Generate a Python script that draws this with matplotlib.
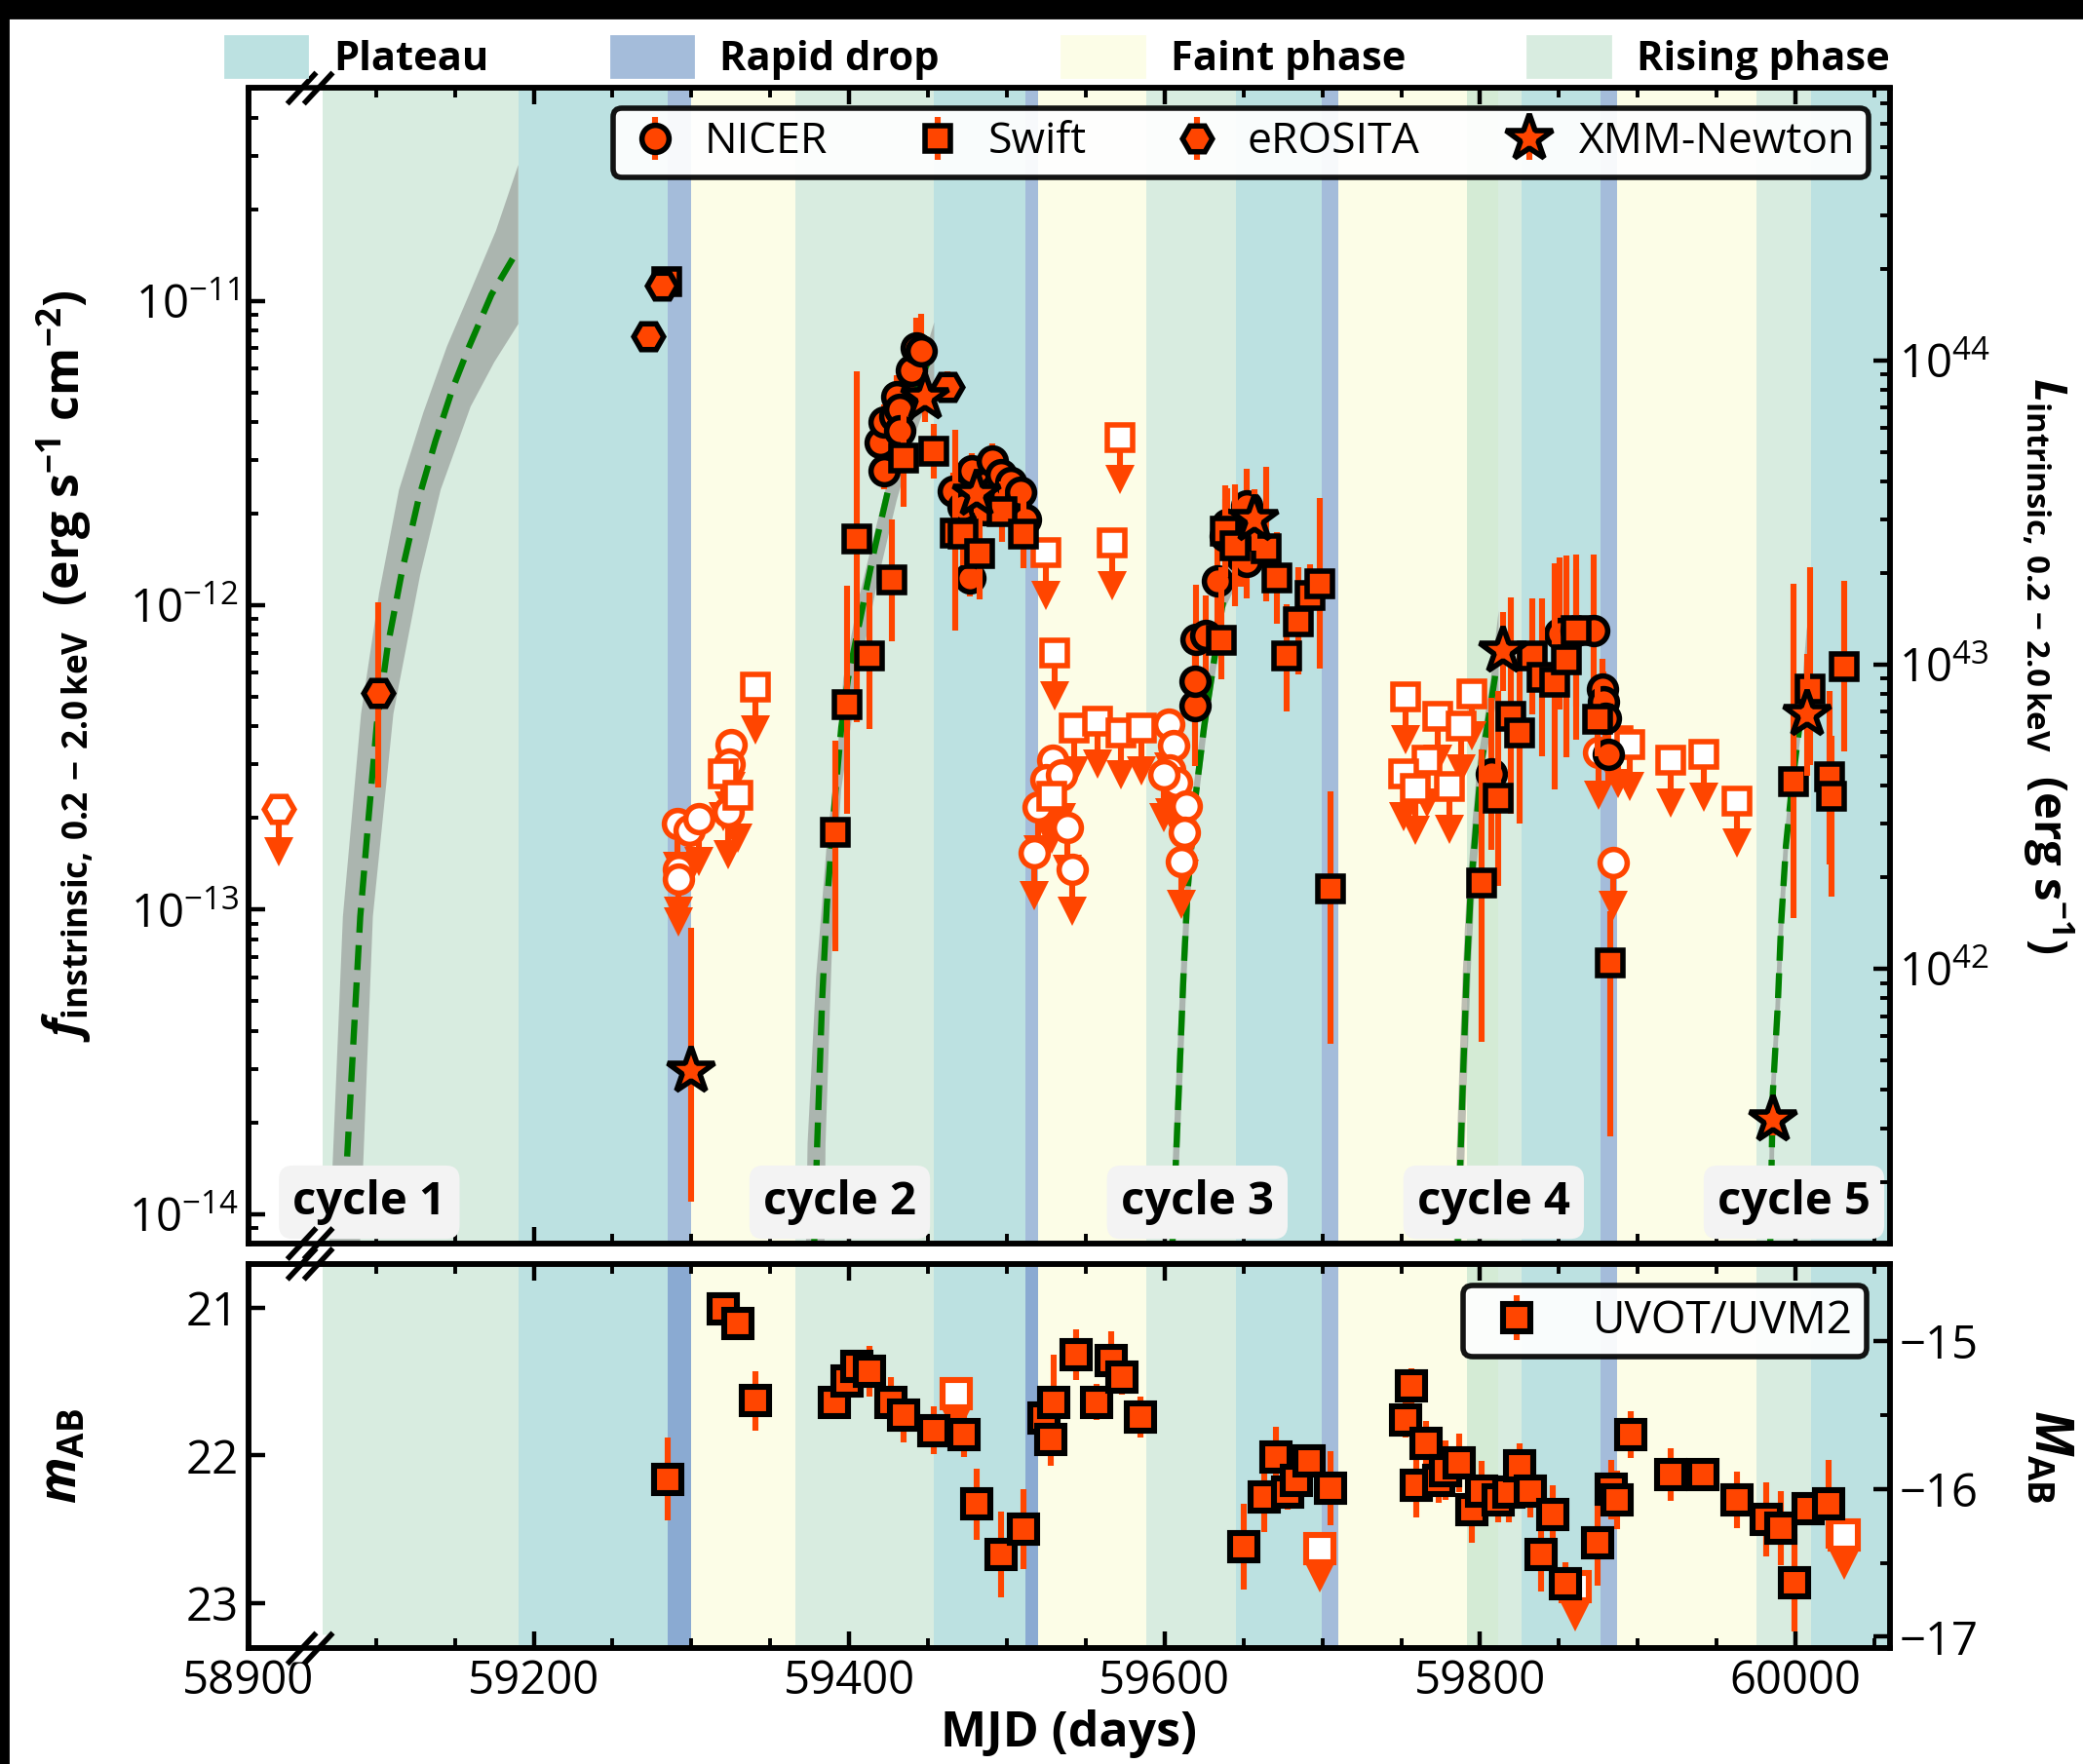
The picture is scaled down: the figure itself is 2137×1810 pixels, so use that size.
import numpy as np
import matplotlib.pyplot as plt
from matplotlib.patches import Patch, Polygon, Rectangle
from matplotlib.ticker import FixedLocator, NullFormatter, LogFormatterSciNotation, NullLocator

plt.rcParams['font.family'] = ['Open Sans', 'DejaVu Sans']
plt.rcParams['mathtext.fontset'] = 'custom'
plt.rcParams['mathtext.rm'] = 'Open Sans:bold'
plt.rcParams['mathtext.it'] = 'Open Sans:italic:bold'
plt.rcParams['mathtext.bf'] = 'Open Sans:bold'

ORANGE = 'orangered'

# ---------------- phases ----------------
phase_start = [59066.2, 59190.1, 59285.0, 59299.8, 59366.0, 59453.9, 59511.6, 59519.8, 59588.5,
               59645.0, 59699.5, 59710.0, 59791.8, 59811.5, 59826.5, 59876.6, 59886.8, 59975.0, 60009.8]
phase_end = [59190.1, 59285.0, 59299.8, 59366.0, 59453.9, 59511.6, 59519.8, 59588.5, 59645.0,
             59699.5, 59710.0, 59791.8, 59811.5, 59826.5, 59876.6, 59886.8, 59975.0, 60009.8, 60060.0]
phase_kind = ['rise', 'plat', 'drop', 'faint', 'rise', 'plat', 'drop', 'faint', 'rise',
              'plat', 'drop', 'faint', 'rise2', 'rise', 'plat', 'drop', 'faint', 'rise', 'plat']
phase_color = {'plat': '#bce1e1', 'drop': '#a4bcda', 'faint': '#fcfde7',
               'rise': '#d8ece0', 'rise2': '#d4ebd5'}
drop_color_lower = ['#8aaad2', '#8aaad2', '#a4bcda', '#a4bcda']

# ---------------- X-ray detections ----------------
nicer_t = [59419.9, 59422.0, 59422.0, 59429.2, 59430.2, 59432.3, 59432.3, 59439.5, 59442.8, 59445.3,
           59466.3, 59472.0, 59476.6, 59477.6, 59485.9, 59487.0, 59491.0, 59493.0, 59496.2, 59499.0,
           59502.4, 59505.0, 59508.6, 59511.7,
           59619.4, 59619.4, 59619.8, 59626.0, 59633.2, 59638.3, 59639.4, 59645.0, 59648.0, 59651.8, 59651.8,
           59806.9, 59850.6, 59861.0, 59872.3, 59877.4, 59878.5, 59879.5, 59881.6]
nicer_f = [3.44e-12, 2.76e-12, 3.99e-12, 4.19e-12, 4.86e-12, 4.40e-12, 3.75e-12, 5.91e-12, 7.0e-12, 6.86e-12,
           2.38e-12, 2.10e-12, 1.23e-12, 2.76e-12, 2.06e-12, 2.50e-12, 2.97e-12, 2.40e-12, 2.69e-12, 2.30e-12,
           2.53e-12, 2.10e-12, 2.35e-12, 1.91e-12,
           4.70e-13, 5.65e-13, 7.72e-13, 7.97e-13, 1.20e-12, 1.69e-12, 1.84e-12, 1.60e-12, 1.45e-12, 2.13e-12, 1.39e-12,
           2.80e-13, 8.07e-13, 8.28e-13, 8.28e-13, 5.32e-13, 4.82e-13, 4.26e-13, 3.25e-13]
nicer_e = [0.06, 0.06, 0.06, 0.06, 0.07, 0.06, 0.06, 0.07, 0.10, 0.12,
           0.06, 0.05, 0.06, 0.06, 0.05, 0.05, 0.06, 0.05, 0.05, 0.05,
           0.05, 0.05, 0.05, 0.06,
           0.20, 0.18, 0.18, 0.13, 0.15, 0.12, 0.12, 0.10, 0.10, 0.12, 0.12,
           0.25, 0.25, 0.25, 0.25, 0.10, 0.10, 0.10, 0.10]

swift_t = [59284.3, 59391.1, 59398.9, 59405.1, 59412.7, 59427.1, 59434.4, 59453.9, 59467.3, 59472.4,
           59482.8, 59497.2, 59510.6, 59635.9, 59638.3, 59644.6, 59664.1, 59671.3, 59677.5, 59684.8,
           59692.0, 59698.1, 59705.4, 59801.2, 59811.5, 59819.7, 59824.8, 59833.1, 59839.3, 59847.5,
           59854.7, 59860.9, 59874.4, 59882.6, 59999.0, 60009.3, 60021.7, 60022.7, 60031.0]
swift_f = [1.16e-11, 1.80e-13, 4.72e-13, 1.65e-12, 6.80e-13, 1.21e-12, 3.05e-12, 3.20e-12, 1.73e-12, 1.71e-12,
           1.48e-12, 2.03e-12, 1.71e-12, 7.69e-13, 1.75e-12, 1.57e-12, 1.53e-12, 1.23e-12, 6.80e-13, 8.80e-13,
           1.08e-12, 1.18e-12, 1.17e-13, 1.22e-13, 2.33e-13, 4.31e-13, 3.82e-13, 6.80e-13, 5.80e-13, 5.58e-13,
           6.64e-13, 8.28e-13, 4.21e-13, 6.67e-14, 2.64e-13, 5.32e-13, 2.74e-13, 2.36e-13, 6.31e-13]
swift_elo = [0.03, 0.39, 0.36, 0.60, 0.24, 0.20, 0.16, 0.09, 0.32, 0.10,
             0.15, 0.10, 0.11, 0.13, 0.15, 0.20, 0.17, 0.15, 0.18, 0.17,
             0.10, 0.28, 0.51, 0.52, 0.29, 0.32, 0.30, 0.19, 0.26, 0.35,
             0.32, 0.36, 0.12, 0.57, 0.45, 0.25, 0.29, 0.33, 0.28]
swift_ehi = [0.03, 0.30, 0.39, 0.55, 0.21, 0.20, 0.16, 0.09, 0.34, 0.10,
             0.15, 0.10, 0.11, 0.24, 0.15, 0.20, 0.27, 0.15, 0.17, 0.18,
             0.10, 0.28, 0.32, 0.44, 0.35, 0.39, 0.30, 0.19, 0.26, 0.39,
             0.34, 0.20, 0.12, 0.17, 0.65, 0.40, 0.28, 0.20, 0.28]

erosita_t = [59101.5, 59272.6, 59281.4, 59462.2]
erosita_f = [5.14e-13, 7.66e-12, 1.12e-11, 5.22e-12]
erosita_elo = [0.31, 0.03, 0.03, 0.05]
erosita_ehi = [0.30, 0.03, 0.03, 0.05]

xmm_t = [59300.0, 59447.8, 59480.7, 59656.9, 59814.5, 59985.5, 60007.2]
xmm_f = [2.96e-14, 4.80e-12, 2.32e-12, 1.91e-12, 7.06e-13, 2.04e-14, 4.37e-13]
xmm_elo = [0.43, 0.08, 0.06, 0.10, 0.13, 0.05, 0.20]
xmm_ehi = [0.47, 0.08, 0.06, 0.10, 0.13, 0.05, 0.20]

# ---------------- X-ray upper limits ----------------
nicer_ul_t = [59291.1, 59298.4, 59304.9, 59291.7, 59291.7, 59323.1, 59325.1, 59324.0,
              59529.2, 59525.0, 59534.3, 59519.9, 59538.4, 59517.4, 59541.1,
              59602.3, 59605.4, 59603.3, 59607.5, 59613.7, 59612.6, 59610.6, 59599.2,
              59875.4, 59884.6]
nicer_ul_f = [1.92e-13, 1.82e-13, 1.99e-13, 1.36e-13, 1.26e-13, 2.09e-13, 3.50e-13, 3.02e-13,
              3.10e-13, 2.67e-13, 2.77e-13, 2.17e-13, 1.87e-13, 1.54e-13, 1.36e-13,
              4.06e-13, 3.46e-13, 2.88e-13, 2.61e-13, 2.19e-13, 1.80e-13, 1.44e-13, 2.77e-13,
              3.29e-13, 1.43e-13]
swift_ul_t = [59340.6, 59320.0, 59329.6, 59525.0, 59530.2, 59566.7, 59571.8, 59542.6, 59557.4, 59572.4,
              59585.2, 59528.5, 59752.8, 59773.4, 59787.8, 59794.6, 59766.1, 59751.7, 59758.9, 59780.5,
              59887.7, 59895.0, 59920.7, 59941.7, 59962.9]
swift_ul_f = [5.38e-13, 2.80e-13, 2.37e-13, 1.49e-12, 6.97e-13, 1.60e-12, 3.57e-12, 3.96e-13, 4.16e-13, 3.82e-13,
              3.96e-13, 2.36e-13, 5.00e-13, 4.31e-13, 4.01e-13, 5.13e-13, 3.10e-13, 2.80e-13, 2.51e-13, 2.54e-13,
              3.59e-13, 3.50e-13, 3.10e-13, 3.24e-13, 2.28e-13]
erosita_ul_t = [58919.5]
erosita_ul_f = [2.14e-13]

# ---------------- model curves (centre) and uncertainty bands ----------------
m1_t = [59077.0, 59079.1, 59081.6, 59085.8, 59090.0, 59095.4, 59100.5, 59107.5, 59116.4, 59127.0,
        59137.7, 59148.4, 59159.0, 59173.2, 59190.2]
m1_f = [5.0e-15, 7.9e-15, 1.51e-14, 3.8e-14, 9.5e-14, 2.04e-13, 4.07e-13, 7.4e-13, 1.29e-12, 2.24e-12,
        3.47e-12, 5.13e-12, 7.08e-12, 1.05e-11, 1.48e-11]
b1_up_t = [59068.0, 59070.5, 59079.0, 59090.5, 59102.0, 59114.6, 59130.0, 59145.0, 59159.0, 59176.0, 59190.2]
b1_up_f = [5.0e-15, 8.3e-15, 9.5e-14, 4.4e-13, 1.1e-12, 2.4e-12, 4.3e-12, 7.1e-12, 1.05e-11, 1.7e-11, 2.8e-11]
b1_lo_t = [59088.5, 59089.9, 59098.0, 59111.0, 59128.0, 59141.0, 59160.0, 59175.0, 59190.2]
b1_lo_f = [5.0e-15, 8.0e-15, 9.5e-14, 4.4e-13, 1.26e-12, 2.4e-12, 4.5e-12, 6.3e-12, 8.4e-12]

m2_t = [59377.5, 59379.7, 59382.8, 59385.9, 59389.0, 59391.5, 59395.0, 59399.3, 59407.5, 59415.8,
        59423.0, 59430.0, 59442.0, 59453.9]
m2_f = [7.1e-15, 1.70e-14, 5.0e-14, 1.05e-13, 1.70e-13, 2.51e-13, 3.98e-13, 5.75e-13, 9.3e-13, 1.51e-12,
        2.19e-12, 3.16e-12, 5.0e-12, 7.1e-12]
b2_up_t = [59372.0, 59373.6, 59379.0, 59382.8, 59386.0, 59393.0, 59396.3, 59405.0, 59421.0, 59438.0, 59453.9]
b2_up_f = [5e-15, 1.7e-14, 6.0e-14, 1.05e-13, 1.7e-13, 3.5e-13, 5.75e-13, 1.0e-12, 2.2e-12, 4.6e-12, 8.5e-12]
b2_lo_t = [59384.0, 59385.0, 59390.0, 59395.0, 59405.5, 59418.0, 59430.0, 59443.0, 59453.9]
b2_lo_f = [5e-15, 1.7e-14, 1.05e-13, 2.5e-13, 5.75e-13, 1.2e-12, 2.2e-12, 3.8e-12, 5.5e-12]

m3_t = [59604.5, 59607.5, 59609.7, 59612.0, 59614.5, 59619.8, 59625.0, 59631.2, 59636.3, 59641.0]
m3_f = [7.1e-15, 1.66e-14, 3.16e-14, 6.2e-14, 1.15e-13, 2.4e-13, 3.98e-13, 6.5e-13, 9.8e-13, 1.26e-12]
b3_up_t = [59602.5, 59605.5, 59607.8, 59610.2, 59612.7, 59617.8, 59623.0, 59629.0, 59634.0, 59640.0, 59643.0]
b3_up_f = [7e-15, 1.66e-14, 3.16e-14, 6.2e-14, 1.15e-13, 2.4e-13, 3.98e-13, 6.5e-13, 9.8e-13, 1.4e-12, 1.6e-12]
b3_lo_t = [59606.5, 59609.5, 59611.7, 59614.0, 59616.5, 59621.8, 59627.0, 59633.2, 59638.3, 59643.0]
b3_lo_f = [7e-15, 1.66e-14, 3.16e-14, 6.2e-14, 1.15e-13, 2.4e-13, 3.98e-13, 6.5e-13, 9.8e-13, 1.1e-12]

m4_t = [59785.5, 59789.5, 59791.5, 59794.0, 59797.5, 59801.0, 59804.5, 59809.3, 59811.8]
m4_f = [7.1e-15, 3.16e-14, 6.2e-14, 1.15e-13, 1.9e-13, 3.1e-13, 3.98e-13, 5.75e-13, 7.6e-13]
b4_up_t = [59783.0, 59787.0, 59789.0, 59791.5, 59795.0, 59798.5, 59802.0, 59806.8, 59811.8]
b4_up_f = [7e-15, 3.16e-14, 6.2e-14, 1.15e-13, 1.9e-13, 3.1e-13, 3.98e-13, 5.75e-13, 9.6e-13]
b4_lo_t = [59788.0, 59792.0, 59794.0, 59796.5, 59800.0, 59803.5, 59807.0, 59811.8]
b4_lo_f = [7e-15, 3.16e-14, 6.2e-14, 1.15e-13, 1.9e-13, 3.1e-13, 3.98e-13, 5.2e-13]

m5_t = [59983.8, 59985.6, 59988.7, 59990.8, 59993.9, 59997.0, 60000.7, 60005.2, 60008.3]
m5_f = [7.1e-15, 2.5e-14, 4.8e-14, 8.9e-14, 1.62e-13, 2.34e-13, 3.39e-13, 5.1e-13, 6.6e-13]
b5_up_t = [59982.3, 59984.1, 59987.2, 59989.3, 59992.4, 59995.5, 59999.2, 60003.7, 60007.2]
b5_up_f = [7e-15, 2.5e-14, 4.8e-14, 8.9e-14, 1.62e-13, 2.34e-13, 3.39e-13, 5.1e-13, 8.5e-13]
b5_lo_t = [59985.3, 59987.1, 59990.2, 59992.3, 59995.4, 59998.5, 60002.2, 60006.7, 60009.0]
b5_lo_f = [7e-15, 2.5e-14, 4.8e-14, 8.9e-14, 1.62e-13, 2.34e-13, 3.39e-13, 5.1e-13, 6.0e-13]

cycle_names = ['cycle 1', 'cycle 2', 'cycle 3', 'cycle 4', 'cycle 5']
cycle_x = [59095.7, 59394.0, 59620.7, 59808.6, 59999.0]

# ---------------- UVOT / UVM2 ----------------
uv_t = [59284.8, 59320.2, 59329.3, 59340.3, 59390.9, 59398.7, 59405.0, 59413.0, 59426.7, 59434.6,
        59453.9, 59472.5, 59481.1, 59496.5, 59510.7, 59523.3, 59527.7, 59529.6, 59543.8, 59556.8,
        59566.3, 59572.6, 59584.4, 59649.9, 59663.4, 59670.3, 59677.7, 59683.8, 59691.6, 59705.1,
        59752.9, 59756.6, 59759.4, 59766.0, 59773.8, 59778.0, 59786.8, 59795.0, 59801.2, 59811.4,
        59818.0, 59824.9, 59831.8, 59838.8, 59846.1, 59854.4, 59874.8, 59883.0, 59887.1, 59895.7,
        59920.6, 59941.1, 59962.7, 59981.1, 59990.5, 59999.5, 60007.7, 60021.1]
uv_m = [22.16, 21.01, 21.11, 21.63, 21.64, 21.50, 21.40, 21.43, 21.64, 21.73,
        21.83, 21.86, 22.33, 22.67, 22.50, 21.75, 21.89, 21.64, 21.32, 21.64,
        21.36, 21.47, 21.74, 22.62, 22.28, 22.01, 22.25, 22.17, 22.04, 22.22,
        21.76, 21.53, 22.20, 21.92, 22.17, 22.10, 22.05, 22.37, 22.24, 22.30,
        22.25, 22.07, 22.24, 22.67, 22.40, 22.87, 22.59, 22.23, 22.30, 21.86,
        22.13, 22.13, 22.30, 22.43, 22.49, 22.86, 22.36, 22.33]
uv_e = [0.28, 0.05, 0.05, 0.20, 0.08, 0.10, 0.10, 0.17, 0.17, 0.18,
        0.16, 0.15, 0.24, 0.29, 0.27, 0.15, 0.18, 0.32, 0.17, 0.12,
        0.20, 0.12, 0.14, 0.29, 0.24, 0.20, 0.12, 0.12, 0.10, 0.25,
        0.12, 0.12, 0.22, 0.15, 0.15, 0.20, 0.20, 0.22, 0.20, 0.15,
        0.20, 0.15, 0.18, 0.25, 0.20, 0.15, 0.29, 0.20, 0.20, 0.16,
        0.18, 0.10, 0.19, 0.25, 0.25, 0.33, 0.10, 0.30]
uv_ul_t = [59468.0, 59698.6, 59860.5, 60030.9]
uv_ul_m = [21.58, 22.63, 22.89, 22.54]

# ---------------- broken x scale ----------------
X0, B1, B2, XMAX = 58900.0, 58939.3, 59058.3, 60059.7
EPS = 1e-3


def fwd(x):
    x = np.asarray(x, dtype=float)
    a = B1 - X0
    return np.where(x < B1, x - X0,
                    np.where(x < B2, a + (x - B1) * EPS, a + (B2 - B1) * EPS + (x - B2)))


def inv(u):
    u = np.asarray(u, dtype=float)
    a = B1 - X0
    b = a + (B2 - B1) * EPS
    return np.where(u < a, u + X0, np.where(u < b, B1 + (u - a) / EPS, B2 + (u - b)))


L_PER_F = 1.565e55      # flux -> luminosity
MAG_OFF = 6.226         # right-hand magnitude axis
F_LIM = (8.0e-15, 5.0e-11)
M_LIM = (23.305, 20.706)

fig = plt.figure(figsize=(10.685, 9.05), dpi=200)
ax = fig.add_axes([0.1191, 0.2950, 0.7881, 0.6550])
ax.set_xscale('function', functions=(fwd, inv))
axb = fig.add_axes([0.1191, 0.0655, 0.7881, 0.2180], sharex=ax)

# shading
for a_, lower in [(ax, False), (axb, True)]:
    k = 0
    for s, e, kind in zip(phase_start, phase_end, phase_kind):
        c = phase_color[kind]
        if kind == 'drop':
            if lower:
                c = drop_color_lower[k]
            k += 1
        a_.axvspan(s, e, color=c, lw=0, zorder=0)

# model curves
for mt, mf, ut, uf, lt, lf in [(m1_t, m1_f, b1_up_t, b1_up_f, b1_lo_t, b1_lo_f),
                               (m2_t, m2_f, b2_up_t, b2_up_f, b2_lo_t, b2_lo_f),
                               (m3_t, m3_f, b3_up_t, b3_up_f, b3_lo_t, b3_lo_f),
                               (m4_t, m4_f, b4_up_t, b4_up_f, b4_lo_t, b4_lo_f),
                               (m5_t, m5_f, b5_up_t, b5_up_f, b5_lo_t, b5_lo_f)]:
    ax.fill(np.r_[ut, lt[::-1]], np.r_[uf, lf[::-1]], color='grey', alpha=0.5, lw=0, zorder=1)
    ax.plot(mt, mf, color='green', lw=2.3, ls=(0, (4, 2)), zorder=1.5)


def det(a_, t, f, elo, ehi, marker, ms, label, z):
    f = np.asarray(f)
    yerr = [f - f * 10 ** (-np.asarray(elo)), f * 10 ** np.asarray(ehi) - f]
    return a_.errorbar(t, f, yerr=yerr, fmt=marker, ms=ms, mfc=ORANGE, mec='k', mew=2,
                       ecolor=ORANGE, elinewidth=2.2, capsize=0, label=label, zorder=z)


def ul_log(a_, t, f, marker, ms):
    f = np.asarray(f)
    fend = f * 10 ** (-0.14)
    a_.errorbar(t, f, yerr=[f - fend, np.zeros_like(f)], fmt='none', ecolor=ORANGE,
                elinewidth=2.2, capsize=0, zorder=2.4)
    a_.plot(t, fend, ls='none', marker='v', ms=11, color=ORANGE, mew=0, zorder=2.4)
    a_.plot(t, f, ls='none', marker=marker, ms=ms, mfc='white', mec=ORANGE, mew=2, zorder=2.5)


ul_log(ax, nicer_ul_t, nicer_ul_f, 'o', 10)
ul_log(ax, swift_ul_t, swift_ul_f, 's', 9.5)
ul_log(ax, erosita_ul_t, erosita_ul_f, 'H', 11)

h_nicer = det(ax, nicer_t, nicer_f, nicer_e, nicer_e, 'o', 10, 'NICER', 3)
h_swift = det(ax, swift_t, swift_f, swift_elo, swift_ehi, 's', 9.5, 'Swift', 3.1)
h_ero = det(ax, erosita_t, erosita_f, erosita_elo, erosita_ehi, 'H', 11, 'eROSITA', 3.2)
h_xmm = det(ax, xmm_t, xmm_f, xmm_elo, xmm_ehi, '*', 18, 'XMM-Newton', 3.5)

ax.set_yscale('log')
ax.set_ylim(*F_LIM)
ax.set_xlim(X0, XMAX)

for name, cx in zip(cycle_names, cycle_x):
    ax.text(cx, 0.016, name, transform=ax.get_xaxis_transform(), ha='center', va='bottom',
            fontsize=17, fontweight='bold', zorder=6,
            bbox=dict(boxstyle='round,pad=0.3', fc='#f3f3f3', ec='none'))

leg = ax.legend(handles=[h_nicer, h_swift, h_ero, h_xmm], loc='upper right',
                bbox_to_anchor=(0.987, 0.983), borderaxespad=0, ncol=4, fontsize=16,
                columnspacing=1.9, handletextpad=0.5, handlelength=1.3, borderpad=0.3,
                framealpha=0.92, edgecolor='k', fancybox=True)
leg.get_frame().set_linewidth(2)
leg.set_zorder(7)

# lower panel
h_uv = axb.errorbar(uv_t, uv_m, yerr=uv_e, fmt='s', ms=10, mfc=ORANGE, mec='k', mew=2.2,
                    ecolor=ORANGE, elinewidth=2.2, capsize=0, label='UVOT/UVM2', zorder=3)
uv_ul_arr = np.asarray(uv_ul_m)
axb.errorbar(uv_ul_t, uv_ul_arr, yerr=[np.zeros_like(uv_ul_arr), np.full_like(uv_ul_arr, 0.2)],
             fmt='none', ecolor=ORANGE, elinewidth=2.2, capsize=0, zorder=2.4)
axb.plot(uv_ul_t, uv_ul_arr + 0.2, ls='none', marker='v', ms=11, color=ORANGE, mew=0, zorder=2.4)
axb.plot(uv_ul_t, uv_ul_arr, ls='none', marker='s', ms=10, mfc='white', mec=ORANGE, mew=2.2,
         zorder=2.5)
axb.set_ylim(*M_LIM)
legb = axb.legend(handles=[h_uv], loc='upper right', bbox_to_anchor=(0.986, 0.944),
                  borderaxespad=0, fontsize=16.5, handletextpad=0.8, handlelength=1.8,
                  borderpad=0.3, framealpha=0.92, edgecolor='k', fancybox=True)
legb.get_frame().set_linewidth(2)

# ticks
major_x = [58900, 59200, 59400, 59600, 59800, 60000]
minor_x = [v for v in range(59100, 60060, 50) if v not in major_x]
for a_ in (ax, axb):
    a_.xaxis.set_major_locator(FixedLocator(major_x))
    a_.xaxis.set_minor_locator(FixedLocator(minor_x))
    a_.tick_params(which='both', direction='in', top=True, bottom=True, left=True, right=False,
                   labelsize=17)
    a_.tick_params(which='major', length=6, width=1.6)
    a_.tick_params(which='minor', length=3.5, width=1.4)
    for sp in a_.spines.values():
        sp.set_linewidth(2)
ax.tick_params(labelbottom=False)
axb.xaxis.set_major_formatter(plt.FixedFormatter([str(v) for v in major_x]))

f_major = [1e-14, 1e-13, 1e-12, 1e-11]
f_minor = [m * 10.0 ** p for p in range(-15, -10) for m in range(2, 10)
           if F_LIM[0] <= m * 10.0 ** p <= F_LIM[1]]
ax.yaxis.set_major_locator(FixedLocator(f_major))
ax.yaxis.set_major_formatter(LogFormatterSciNotation())
ax.yaxis.set_minor_locator(FixedLocator(f_minor))
ax.yaxis.set_minor_formatter(NullFormatter())
axb.yaxis.set_major_locator(FixedLocator([21, 22, 23]))
axb.yaxis.set_minor_locator(NullLocator())

ax2 = ax.twinx()
ax2.set_yscale('log')
ax2.set_ylim(F_LIM[0] * L_PER_F, F_LIM[1] * L_PER_F)
l_minor = [m * 10.0 ** p for p in range(41, 45) for m in range(2, 10)
           if F_LIM[0] * L_PER_F <= m * 10.0 ** p <= F_LIM[1] * L_PER_F]
ax2.yaxis.set_major_locator(FixedLocator([1e42, 1e43, 1e44]))
ax2.yaxis.set_major_formatter(LogFormatterSciNotation())
ax2.yaxis.set_minor_locator(FixedLocator(l_minor))
ax2.yaxis.set_minor_formatter(NullFormatter())
axb2 = axb.twinx()
axb2.set_ylim(MAG_OFF - M_LIM[0], MAG_OFF - M_LIM[1])
axb2.yaxis.set_major_locator(FixedLocator([-17, -16, -15]))
axb2.yaxis.set_minor_locator(FixedLocator([-16.5, -15.5]))
for a_ in (ax2, axb2):
    a_.tick_params(which='both', direction='in', right=True, left=False, top=False, bottom=False,
                   labelsize=17)
    a_.tick_params(which='major', length=6, width=1.6)
    a_.tick_params(which='minor', length=3.5, width=1.4)
    for sp in a_.spines.values():
        sp.set_linewidth(2)

ax.set_ylabel(r'$f_{\mathrm{instrinsic,\,0.2\,-\,2.0\,keV}}$  (erg s$^{-1}$ cm$^{-2}$)',
              fontsize=18, fontweight='bold')
ax.yaxis.set_label_coords(-0.093, 0.5)
ax2.set_ylabel(r'$L_{\mathrm{intrinsic,\,0.2\,-\,2.0\,keV}}$  (erg s$^{-1}$)',
               fontsize=17, fontweight='bold', rotation=270, va='bottom')
ax2.yaxis.set_label_coords(1.080, 0.5)
axb.set_ylabel(r'$m_{\mathrm{AB}}$', fontsize=19, fontweight='bold')
axb.yaxis.set_label_coords(-0.097, 0.5)
axb2.set_ylabel(r'$M_{\mathrm{AB}}$', fontsize=19, fontweight='bold', rotation=270, va='bottom')
axb2.yaxis.set_label_coords(1.081, 0.5)
axb.set_xlabel('MJD (days)', fontsize=18, fontweight='bold', labelpad=2)

# phase legend above the plot
phase_handles = [Patch(color=phase_color['plat'], label='Plateau'),
                 Patch(color=phase_color['drop'], label='Rapid drop'),
                 Patch(color=phase_color['faint'], label='Faint phase'),
                 Patch(color=phase_color['rise'], label='Rising phase')]
fig.legend(handles=phase_handles, loc='center', bbox_to_anchor=(0.5076, 0.967), ncol=4,
           frameon=False, handlelength=2.03, handleheight=1.15, handletextpad=0.65,
           columnspacing=3.0, prop={'weight': 'bold', 'size': 15})

# axis break marks
fr = float((fwd(B1) - fwd(X0)) / (fwd(XMAX) - fwd(X0)))
W_PX = 0.7881 * 2137
for a_, h_px in [(ax, 0.6550 * 1810), (axb, 0.2180 * 1810)]:
    dx, dy, sep = 13.0 / W_PX, 14.0 / h_px, 8.5 / W_PX
    for yy in (0.0, 1.0):
        a_.add_patch(Polygon([[fr - sep - dx, yy - dy], [fr + sep - dx, yy - dy],
                              [fr + sep + dx, yy + dy], [fr - sep + dx, yy + dy]],
                             closed=True, transform=a_.transAxes, fc='white', ec='none',
                             clip_on=False, zorder=10))
        for s in (-sep, sep):
            a_.plot([fr + s - dx, fr + s + dx], [yy - dy, yy + dy], color='k', lw=2,
                    transform=a_.transAxes, clip_on=False, zorder=11)

# black border of the original figure
fig.patches.append(Rectangle((0, 1 - 18 / 1810), 1, 18 / 1810, transform=fig.transFigure,
                             color='k', zorder=20))
fig.patches.append(Rectangle((0, 0), 8 / 2137, 1, transform=fig.transFigure, color='k', zorder=20))

fig.savefig('out.png', dpi=200)
